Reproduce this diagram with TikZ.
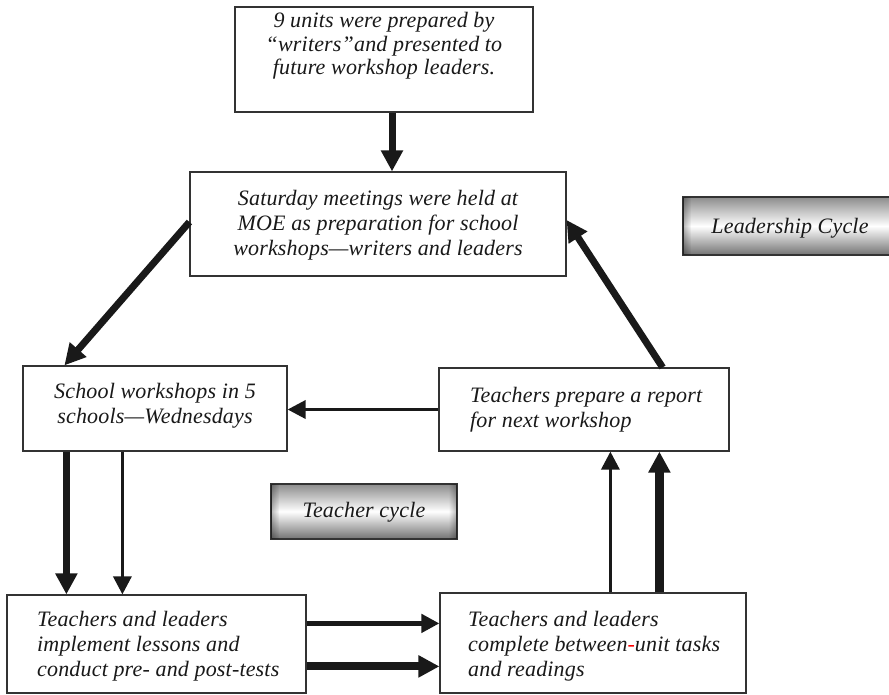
\documentclass[tikz,border=0pt]{standalone}
\usepackage{fontspec}
\setmainfont{Liberation Serif}[LetterSpace=0.8]
\usetikzlibrary{arrows.meta,fadings}

\begin{document}
\begin{tikzpicture}[x=1pt,y=-1pt,
  box/.style={draw=black!80, line width=1.2pt, rectangle, inner sep=0pt, fill=white},
  txt/.style={font=\fontsize{22}{25}\selectfont\itshape, inner sep=0pt, text=black!90},
  heavy/.style={-{Triangle[length=21pt,width=21pt]}, line width=7pt, draw=black!90},
  light/.style={-{Triangle[length=18pt,width=18pt]}, line width=3.3pt, draw=black!90},
  tagbox/.style={draw=black!80, line width=1.2pt, rectangle, inner sep=0pt,
    top color=black!45, bottom color=black!55, middle color=white}
]
\useasboundingbox (0,0) rectangle (889,694);

% process boxes
\node[box, minimum width=298pt, minimum height=105pt] (units)   at (384,59.5) {};
\node[box, minimum width=376pt, minimum height=104pt] (sat)     at (378,224)  {};
\node[box, minimum width=264pt, minimum height=85pt]  (school)  at (155,408.5) {};
\node[box, minimum width=290pt, minimum height=83pt]  (report)  at (584,409.5) {};
\node[box, minimum width=299pt, minimum height=98pt]  (lessons) at (156.5,644) {};
\node[box, minimum width=306pt, minimum height=100pt] (tasks)   at (593,643)  {};

% box texts
\node[txt, font=\fontsize{22}{23.5}\selectfont\itshape, align=center] (tunits) at (384,46)
  {9 units were prepared by\\“writers”and presented to\\future workshop leaders.};
\node[txt, align=center] (tsat) at (378,225)
  {Saturday meetings were held at\\MOE as preparation for school\\workshops—writers and leaders};
\node[txt, align=center] (tschool) at (155,405.5)
  {School workshops in 5\\schools—Wednesdays};
\node[txt, align=left, anchor=west] (treport) at (470,410)
  {Teachers prepare a report\\for next workshop};
\node[txt, align=left, anchor=west] (tlessons) at (37,646)
  {Teachers and leaders\\implement lessons and\\conduct pre- and post-tests};
\node[txt, align=left, anchor=west] (ttasks) at (468,646)
  {Teachers and leaders\\complete between\textcolor{red}{-}unit tasks\\and readings};

% shaded cycle tags
\node[tagbox, minimum width=214pt, minimum height=58pt] (lead)  at (790,226) {};
\node[tagbox, minimum width=186pt, minimum height=55pt] (teach) at (364,511.5) {};
\foreach \t in {lead,teach}{
  \fill[black, opacity=0.3, path fading=east] (\t.north west) rectangle ([xshift=9pt]\t.south west);
  \fill[black, opacity=0.3, path fading=west] ([xshift=-9pt]\t.north east) rectangle (\t.south east);
  \draw[draw=black!80, line width=1.2pt] (\t.north west) rectangle (\t.south east);
}
\node[txt] (tlead)  at (790,228) {Leadership Cycle};
\node[txt] (tteach) at (364,512) {Teacher cycle};

% leadership cycle connectors
\draw[heavy] ([xshift=8pt]units.south) -- ([xshift=8pt]units.south |- sat.north);
\draw[heavy] ([yshift=2pt]sat.west) -- ([xshift=42pt]school.north west);
\draw[heavy] ([xshift=-67pt]report.north east) -- ([yshift=4pt]sat.east);

% teacher cycle connectors
\draw[light, line width=3.5pt] (report.west) -- (report.west -| school.east);
\draw[heavy] ([xshift=44pt]school.south west) -- ([xshift=44pt]school.south west |- lessons.north);
\draw[light] ([xshift=100pt]school.south west) -- ([xshift=100pt]school.south west |- lessons.north);
\draw[light, line width=5pt] ([yshift=-29pt]lessons.north east) -- ([yshift=-29pt]lessons.north east -| tasks.west);
\draw[heavy, line width=8pt] ([yshift=-72pt]lessons.north east) -- ([yshift=-72pt]lessons.north east -| tasks.west);
\draw[light] ([xshift=171pt]tasks.north west) -- ([xshift=171pt]tasks.north west |- report.south);
\draw[heavy, line width=9pt] ([xshift=220pt]tasks.north west) -- ([xshift=220pt]tasks.north west |- report.south);
\end{tikzpicture}
\end{document}
